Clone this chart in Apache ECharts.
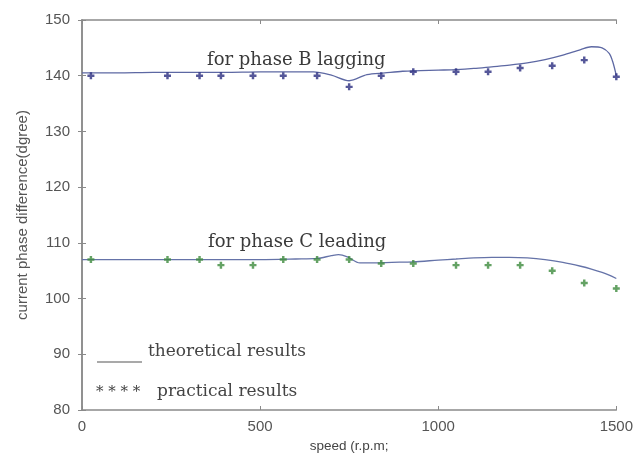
<!DOCTYPE html>
<html>
<head>
<meta charset="utf-8">
<script src="https://cdn.jsdelivr.net/npm/echarts@6/dist/echarts.min.js"></script>
<style>
  html, body { margin: 0; padding: 0; background: #fff; }
  #chart { width: 636px; height: 458px; }
</style>
</head>
<body>
<div id="chart"></div>
<script>
// Measured speeds (r.p.m.) for the practical points
const speeds = [25, 240, 330, 390, 480, 565, 660, 750, 840, 930, 1050, 1140, 1230, 1320, 1410, 1500];
// Practical phase difference (degree)
const practicalB = [140, 140, 140, 140, 140, 140, 140, 138, 140, 140.7, 140.7, 140.7, 141.4, 141.8, 142.8, 139.8];
const practicalC = [107, 107, 107, 106, 106, 107, 107, 107, 106.3, 106.3, 106, 106, 106, 105, 102.8, 101.8];

// Theoretical curves
const theoryB_x = [0, 100, 200, 300, 400, 500, 600, 650, 700, 750, 800, 850, 900, 950, 1000, 1050, 1100, 1150, 1200, 1250, 1300, 1350, 1400, 1430, 1460, 1480, 1490, 1500];
const theoryB_y = [140.5, 140.5, 140.6, 140.6, 140.6, 140.7, 140.7, 140.7, 140.1, 139.1, 140.2, 140.5, 140.8, 140.9, 141.0, 141.1, 141.3, 141.6, 141.9, 142.3, 142.9, 143.7, 144.7, 145.2, 145.0, 144.0, 142.5, 140.0];
const theoryC_x = [0, 100, 200, 300, 400, 500, 600, 660, 700, 720, 745, 780, 820, 870, 930, 1000, 1050, 1100, 1150, 1200, 1250, 1300, 1350, 1400, 1430, 1460, 1480, 1500];
const theoryC_y = [107, 107, 107, 107, 107, 107, 107.1, 107.2, 107.7, 107.9, 107.5, 106.4, 106.4, 106.5, 106.6, 106.9, 107.1, 107.3, 107.4, 107.4, 107.3, 107.0, 106.5, 105.8, 105.3, 104.7, 104.2, 103.6];

// Axis ticks
const xTicks = { min: 0, max: 1500, step: 500 };
const yTicks = { min: 80, max: 150, step: 10 };

const zip = (xs, ys) => xs.map((x, i) => [x, ys[i]]);

const plusPath = 'path://M-1.4,-4L1.4,-4L1.4,-1.4L4,-1.4L4,1.4L1.4,1.4L1.4,4L-1.4,4L-1.4,1.4L-4,1.4L-4,-1.4L-1.4,-1.4Z';
const frame = { lineStyle: { color: '#8a8a8a', width: 1.5 } };
const tickIn = { inside: true, length: 4, lineStyle: { color: '#8a8a8a' } };
const tickFont = { color: '#555', fontSize: 15, fontFamily: 'Liberation Sans' };
const serif = 'DejaVu Serif';

const chart = echarts.init(document.getElementById('chart'));
chart.setOption({
  animation: false,
  grid: { left: 82, right: 17, top: 20, bottom: 48 },
  xAxis: [
    {
      type: 'value', min: xTicks.min, max: xTicks.max, interval: xTicks.step,
      name: 'speed (r.p.m;', nameLocation: 'middle', nameGap: 29,
      nameTextStyle: { color: '#444', fontSize: 13.5, fontFamily: 'Liberation Sans' },
      axisLine: frame, axisTick: tickIn, splitLine: { show: false },
      axisLabel: Object.assign({ margin: 9, formatter: v => String(v) }, tickFont)
    },
    {
      type: 'value', position: 'top', min: xTicks.min, max: xTicks.max, interval: xTicks.step,
      axisLine: frame, axisTick: tickIn, splitLine: { show: false }, axisLabel: { show: false }
    }
  ],
  yAxis: [
    {
      type: 'value', min: yTicks.min, max: yTicks.max, interval: yTicks.step,
      name: 'current phase difference(dgree)', nameLocation: 'middle', nameGap: 52,
      nameTextStyle: { color: '#555', fontSize: 15, fontFamily: 'Liberation Sans' },
      axisLine: frame, axisTick: tickIn, splitLine: { show: false },
      axisLabel: Object.assign({ margin: 12 }, tickFont)
    },
    {
      type: 'value', position: 'right', min: yTicks.min, max: yTicks.max, interval: yTicks.step,
      axisLine: frame, axisTick: tickIn, splitLine: { show: false }, axisLabel: { show: false }
    }
  ],
  series: [
    {
      type: 'line', data: zip(theoryB_x, theoryB_y), smooth: 0.3, showSymbol: false,
      lineStyle: { color: '#5d68a3', width: 1.3 }, z: 2
    },
    {
      type: 'line', data: zip(theoryC_x, theoryC_y), smooth: 0.3, showSymbol: false,
      lineStyle: { color: '#6573a8', width: 1.3 }, z: 2
    },
    {
      type: 'scatter', data: zip(speeds, practicalB), symbol: plusPath, symbolSize: 7,
      itemStyle: { color: '#2b2d80' }, z: 3
    },
    {
      type: 'scatter', data: zip(speeds, practicalC), symbol: plusPath, symbolSize: 7,
      itemStyle: { color: '#3d8b3d' }, z: 3
    }
  ],
  graphic: [
    { type: 'text', left: 207, top: 51, style: { text: 'for phase B lagging', font: '18px "' + serif + '"', fill: '#3a3a3a' } },
    { type: 'text', left: 208, top: 233, style: { text: 'for phase C leading', font: '18px "' + serif + '"', fill: '#3a3a3a' } },
    { type: 'line', shape: { x1: 97, y1: 362, x2: 142, y2: 362 }, style: { stroke: '#555', lineWidth: 1.2 } },
    { type: 'text', left: 148, top: 343, style: { text: 'theoretical results', font: '17px "' + serif + '"', fill: '#444' } },
    { type: 'text', left: 96, top: 385, style: { text: '* * * *', font: '15px "' + serif + '"', fill: '#444' } },
    { type: 'text', left: 157, top: 383, style: { text: 'practical results', font: '17px "' + serif + '"', fill: '#444' } }
  ]
});
</script>
</body>
</html>
